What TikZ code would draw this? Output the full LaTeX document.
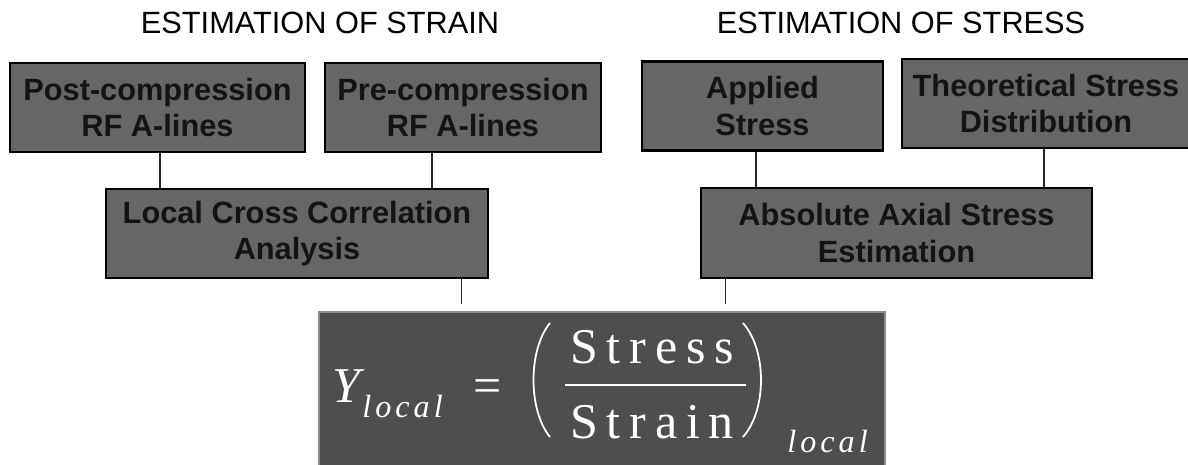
\documentclass[tikz,border=0pt]{standalone}
\usepackage{fontspec}
\newfontfamily\arialfont{Liberation Sans}
\newfontfamily\eqfont{Liberation Serif}
\newcommand\spaceout[2]{\def\spacegap{#1}\spaceoutloop#2\relax}
\def\spaceoutloop#1{\ifx#1\relax\else#1\kern\spacegap\expandafter\spaceoutloop\fi}
\definecolor{boxgray}{RGB}{102,102,102}
\definecolor{eqgray}{RGB}{78,78,78}
\definecolor{eqedge}{RGB}{140,140,140}

\begin{document}
\begin{tikzpicture}[x=0.02cm,y=-0.02cm,
    box/.style={draw=black,line width=1.4pt,fill=boxgray,align=center,inner sep=0pt,minimum height=1.78cm,font=\arialfont\bfseries\fontsize{17.5}{21}\selectfont,text=black!92},
    title/.style={inner sep=0pt,anchor=base,font=\arialfont\fontsize{17.5}{21}\selectfont},
    link/.style={line width=0.6pt,draw=black!85},
    eqtext/.style={inner sep=0pt,anchor=base west,text=white},
    eqbig/.style={eqtext,font=\eqfont\fontsize{28.5}{30}\selectfont},
    eqsub/.style={eqtext,font=\eqfont\itshape\fontsize{18.3}{20}\selectfont}]
  \useasboundingbox (0,0) rectangle (1188,464);
  \node[title] (tstrain) at (320,33) {ESTIMATION OF STRAIN};
  \node[title] (tstress) at (901,33) {ESTIMATION OF STRESS};
  \node[box,minimum width=5.9cm] (post) at (157.5,107.5) {Post-compression\\RF A-lines};
  \node[box,minimum width=5.52cm] (pre) at (463,107.5) {Pre-compression\\RF A-lines};
  \node[box,minimum width=7.64cm] (xcorr) at (297,233.5) {Local Cross Correlation\\Analysis};
  \node[box,minimum width=4.82cm] (applied) at (762.5,106) {Applied\\Stress};
  \node[box,minimum width=5.76cm] (theory) at (1046,103.5) {Theoretical Stress\\Distribution};
  \node[box,minimum width=7.82cm,minimum height=1.8cm] (axial) at (896.5,233) {Absolute Axial Stress\\Estimation};
  \node[draw=eqedge,line width=1.5pt,fill=eqgray,inner sep=0pt,minimum width=11.32cm,minimum height=3.24cm] (ymod) at (602,393) {};
  \draw[link] ([xshift=0.05cm]post.south) -- ([xshift=0.05cm]post.south |- xcorr.north);
  \draw[link] ([xshift=-0.62cm]pre.south) -- ([xshift=-0.62cm]pre.south |- xcorr.north);
  \draw[link] ([xshift=-0.13cm]applied.south) -- ([xshift=-0.13cm]applied.south |- axial.north);
  \draw[link] ([xshift=-0.04cm]theory.south) -- ([xshift=-0.04cm]theory.south |- axial.north);
  \draw[link,shorten >=0.14cm] ([xshift=3.3cm]xcorr.south) -- ([xshift=3.3cm]xcorr.south |- ymod.north);
  \draw[link,shorten >=0.14cm] ([xshift=-3.43cm]axial.south) -- ([xshift=-3.43cm]axial.south |- ymod.north);
  \node[eqtext,font=\eqfont\itshape\fontsize{28.5}{30}\selectfont] (ysym) at (332,402) {Y};
  \node[eqsub] (ysub) at (362,417) {\spaceout{0.125em}{local}};
  \node[eqbig] (equal) at (473,402) {=};
  \node[eqbig] (num) at (570,363) {\spaceout{0.176em}{Stress}};
  \node[eqbig] (den) at (570,438) {\spaceout{0.176em}{Strain}};
  \draw[white,line width=1.1pt] (565,385) -- (746,385);
  \draw[white,line width=1pt] (550,323) .. controls (528,350) and (528,410) .. (550,437);
  \draw[white,line width=1pt] (743,323) .. controls (767,350) and (767,410) .. (743,437);
  \node[eqsub] (fsub) at (787,452) {\spaceout{0.125em}{local}};
\end{tikzpicture}
\end{document}
